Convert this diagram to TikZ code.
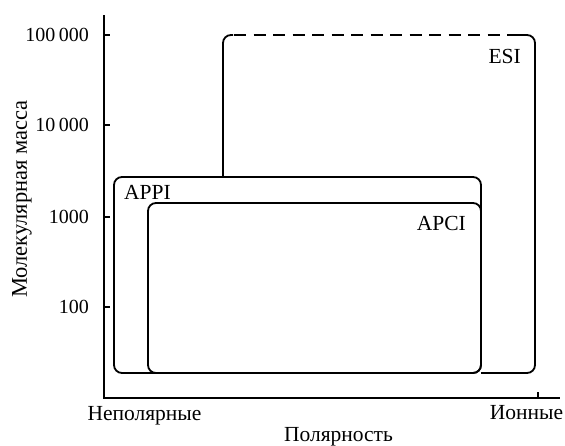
\documentclass[tikz,border=0pt]{standalone}
\usepackage{fontspec}
\setmainfont{Liberation Serif}
\begin{document}
\begin{tikzpicture}[x=1pt,y=-1pt,
  axisline/.style={line width=1.3pt},
  boxline/.style={line width=1.8pt, rounded corners=8pt},
  lbl/.style={font=\fontsize{21.5}{25}\selectfont, inner sep=0pt},
  ticklbl/.style={font=\fontsize{20}{24}\selectfont, inner sep=0pt, anchor=east}]
\useasboundingbox (0,0) rectangle (565,445);
% axes
\coordinate (O) at (104,398);
\coordinate (ytop) at (104,15);
\coordinate (xend) at (560,398);
\draw[axisline] (ytop) -- (O) -- (xend);
\foreach \y/\t/\n in {35/100\,000/a,125/10\,000/b,217/1000/c,307/100/d}{
  \draw[axisline] (104,\y) -- (110,\y);
  \node[ticklbl] (t\n) at (89,\y) {\t};
}
\draw[axisline] (538,392) -- (538,398);
% boxes
\draw[boxline] (114,177) rectangle (481,373);
\draw[boxline] (148,203) rectangle (481,373);
% ESI
\draw[boxline] (223,177) -- (223,35) -- (233,35);
\draw[line width=1.8pt, dash pattern=on 12pt off 7.5pt] (234,35) -- (520,35);
\draw[boxline] (518,35) -- (535,35) -- (535,373) -- (481,373);
% labels
\node[lbl, anchor=east] (esi) at (521,56) {ESI};
\node[lbl, anchor=west] (appi) at (124,192) {APPI};
\node[lbl, anchor=east] (apci) at (466,223) {APCI};
\node[lbl, anchor=base] (nonpol) at (144.5,420) {Неполярные};
\node[lbl, anchor=base] (ionic) at (526.5,419) {Ионные};
\node[lbl, anchor=base] (polar) at (338.5,441) {Полярность};
\node[font=\fontsize{22.5}{26}\selectfont, inner sep=0pt, rotate=90] (mass) at (22,199) {Молекулярная масса};
\end{tikzpicture}
\end{document}
